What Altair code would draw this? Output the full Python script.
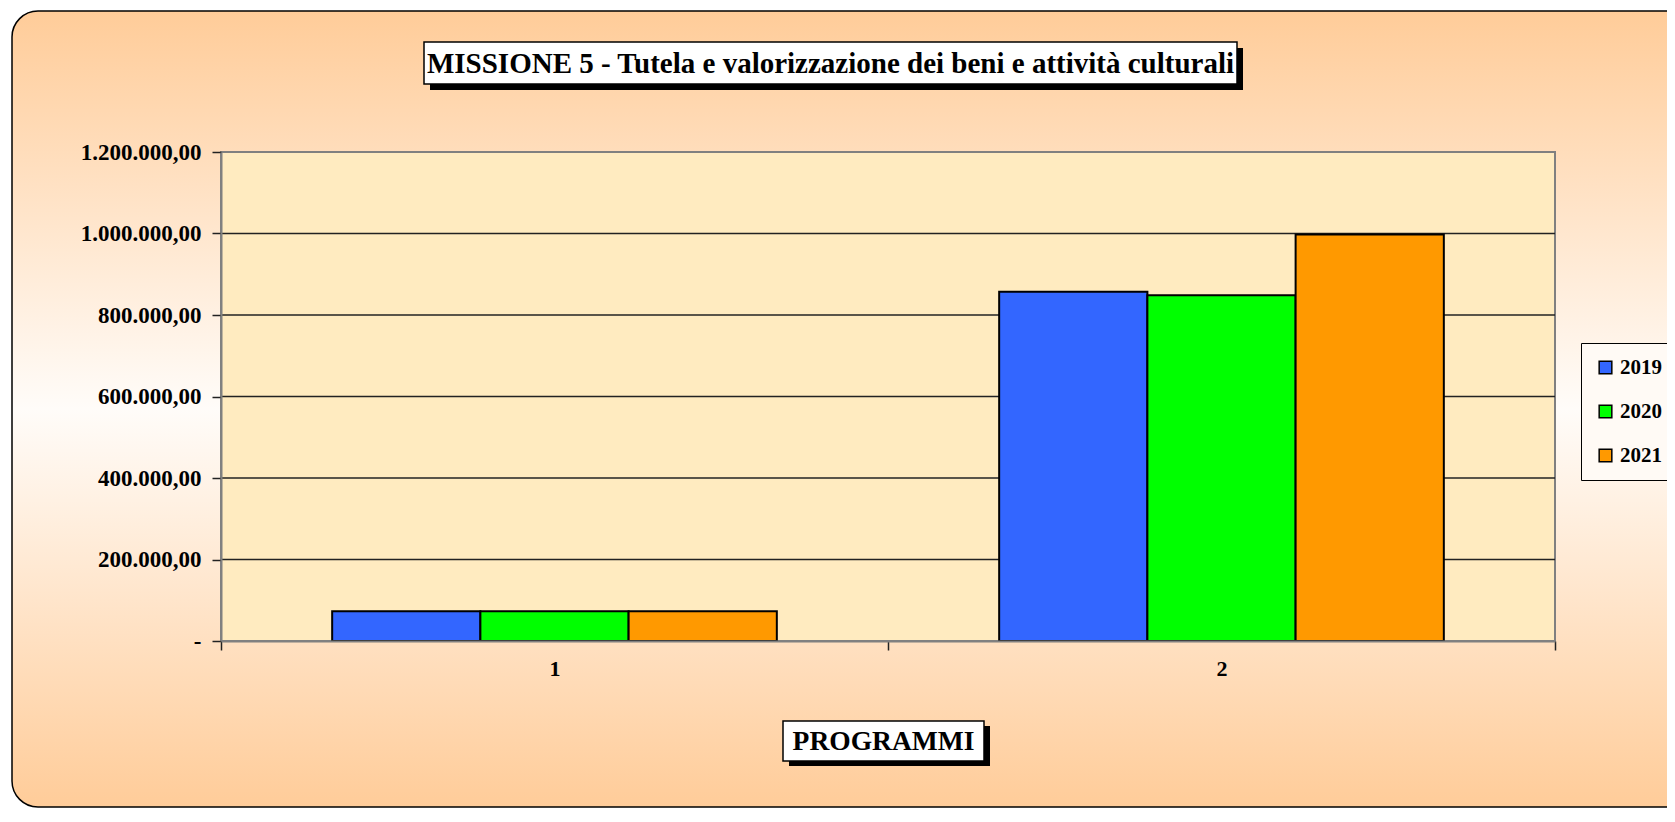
import altair as alt
import pandas as pd

# ---- data ----
programmi = ["1", "2"]
anni = ["2019", "2020", "2021"]
valori_2019 = [73000, 857000]
valori_2020 = [73000, 848500]
valori_2021 = [73000, 997500]
colori = ["#3366FF", "#00FF00", "#FF9900"]
y_ticks = [0, 200000, 400000, 600000, 800000, 1000000, 1200000]
grid_values = [200000, 400000, 600000, 800000, 1000000]
titolo = "MISSIONE 5 - Tutela e valorizzazione dei beni e attività culturali"
titolo_x = "PROGRAMMI"

rows = []
for anno, serie in zip(anni, [valori_2019, valori_2020, valori_2021]):
    for p, v in zip(programmi, serie):
        rows.append({"programma": p, "anno": anno, "valore": v})
df = pd.DataFrame(rows)
grid_df = pd.DataFrame({"v": grid_values})
one = pd.DataFrame({"k": [0]})

W, H = 1334, 489
FONT = "Liberation Serif"

# ---- background (rounded gradient panel) ----
bg = alt.Chart(one).mark_rect(
    cornerRadius=26,
    stroke="#000000",
    strokeWidth=1.5,
    fill=alt.LinearGradient(
        gradient="linear", x1=0, y1=0, x2=0, y2=1,
        stops=[
            alt.GradientStop(offset=0, color="#FFCC99"),
            alt.GradientStop(offset=0.5, color="#FFFCF9"),
            alt.GradientStop(offset=1, color="#FFCC99"),
        ],
    ),
).encode(x=alt.value(-209), x2=alt.value(W + 160), y=alt.value(-141), y2=alt.value(655))

plot_bg = alt.Chart(one).mark_rect(
    fill="#FFEBC0", stroke="#808080", strokeWidth=2
).encode(x=alt.value(0), x2=alt.value(W), y=alt.value(0), y2=alt.value(H))

grid = alt.Chart(grid_df).mark_rule(color="#222222", strokeWidth=1.5).encode(
    y=alt.Y("v:Q")
)

label_expr = (
    "datum.value == 0 ? '-' : "
    "join(split(join(split(join(split(format(datum.value, ',.2f'), ','), 'X'), '.'), ','), 'X'), '.')"
)

bars = alt.Chart(df).mark_bar(stroke="#000000", strokeWidth=2).encode(
    x=alt.X(
        "programma:N",
        sort=programmi,
        scale=alt.Scale(paddingInner=0, paddingOuter=0),
        axis=alt.Axis(
            title=None, labelAngle=0, tickBand="extent", tickSize=9, tickWidth=1.5,
            tickColor="#222222", domainColor="#808080", domainWidth=2,
            labelFont=FONT, labelFontSize=22, labelFontWeight="bold", labelColor="#000000",
            labelPadding=8, zindex=1,
        ),
    ),
    xOffset=alt.XOffset("anno:N", sort=anni, scale=alt.Scale(paddingInner=0, paddingOuter=0.75)),
    y=alt.Y(
        "valore:Q",
        scale=alt.Scale(domain=[0, 1200000], nice=False),
        axis=alt.Axis(
            title=None, values=y_ticks, labelExpr=label_expr, grid=False,
            tickSize=9, tickWidth=1.5, tickColor="#222222",
            domainColor="#808080", domainWidth=2,
            labelFont=FONT, labelFontSize=23, labelFontWeight="bold", labelColor="#000000",
            labelPadding=11, zindex=1,
        ),
    ),
    color=alt.Color(
        "anno:N",
        sort=anni,
        scale=alt.Scale(domain=anni, range=colori),
        legend=alt.Legend(
            title=None, orient="none", legendX=1360, legendY=191,
            symbolType="square", symbolSize=160, symbolStrokeColor="#000000",
            symbolStrokeWidth=1.5, strokeColor="#000000", fillColor="#FFFAF5",
            padding=14, rowPadding=22, labelOffset=4,
            labelFont=FONT, labelFontSize=21, labelFontWeight="bold", labelColor="#000000",
        ),
    ),
)

# ---- title box ----
t_shadow = alt.Chart(one).mark_rect(fill="#000000").encode(
    x=alt.value(209), x2=alt.value(1022), y=alt.value(-104), y2=alt.value(-62)
)
t_box = alt.Chart(one).mark_rect(fill="#FFFFFF", stroke="#000000", strokeWidth=1.5).encode(
    x=alt.value(203), x2=alt.value(1016), y=alt.value(-110), y2=alt.value(-68)
)
t_text = alt.Chart(one).mark_text(
    font=FONT, fontSize=29, fontWeight="bold", color="#000000", align="center", baseline="middle"
).encode(x=alt.value(609.5), y=alt.value(-88), text=alt.value(titolo))

# ---- x title box ----
x_shadow = alt.Chart(one).mark_rect(fill="#000000").encode(
    x=alt.value(568), x2=alt.value(769), y=alt.value(574), y2=alt.value(614)
)
x_box = alt.Chart(one).mark_rect(fill="#FFFFFF", stroke="#000000", strokeWidth=1.5).encode(
    x=alt.value(562), x2=alt.value(763), y=alt.value(569), y2=alt.value(609)
)
x_text = alt.Chart(one).mark_text(
    font=FONT, fontSize=27.5, fontWeight="bold", color="#000000", align="center", baseline="middle"
).encode(x=alt.value(662.5), y=alt.value(590), text=alt.value(titolo_x))

chart = alt.layer(
    bg, plot_bg, grid, bars, t_shadow, t_box, t_text, x_shadow, x_box, x_text
).properties(
    width=W, height=H,
    padding={"left": 213, "top": 144, "right": 112, "bottom": 167},
    autosize=alt.AutoSizeParams(type="none"),
).configure_view(stroke=None).configure(background="#FFFFFF")

chart.save("out.html", embed_options={"renderer": "svg", "actions": False})
